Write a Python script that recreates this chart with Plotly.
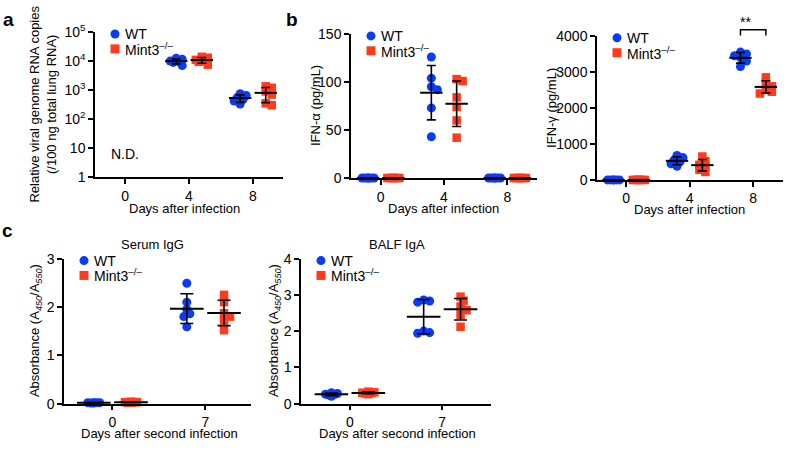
import numpy as np
import plotly.graph_objects as go

W, H = 787, 450

# ---- data ----
group_names = ["WT", "Mint3<sup>\u2013/\u2013</sup>"]

rna_days = ["0", "4", "8"]
rna_wt = [[], [12500, 11500, 10000, 9500, 9000, 7000], [750, 650, 550, 480, 420, 330]]
rna_ko = [[], [14000, 13000, 11000, 10000, 9500, 7500], [1350, 1200, 900, 700, 350, 300]]

ifna_days = ["0", "4", "8"]
ifna_wt = [[0, 0, 0, 0, 0, 0], [126, 104, 95, 92, 73, 43], [0, 0, 0, 0, 0, 0]]
ifna_ko = [[0, 0, 0, 0, 0, 0], [103, 101, 84, 74, 60, 42], [0, 0, 0, 0, 0, 0]]

ifng_days = ["0", "4", "8"]
ifng_wt = [[0, 0, 0, 0, 0, 0], [680, 620, 550, 500, 450, 380], [3550, 3500, 3450, 3400, 3300, 3150]]
ifng_ko = [[0, 0, 0, 0, 0, 0], [650, 520, 420, 370, 280, 220], [2850, 2700, 2600, 2500, 2450, 2400]]

igg_days = ["0", "7"]
igg_wt = [[0.02, 0.02, 0.01, 0.02, 0.01, 0.02], [2.49, 2.10, 1.95, 1.86, 1.80, 1.59]]
igg_ko = [[0.03, 0.02, 0.04, 0.03, 0.02, 0.03], [2.25, 2.10, 1.87, 1.80, 1.72, 1.52]]

iga_days = ["0", "7"]
iga_wt = [[0.30, 0.28, 0.26, 0.25, 0.24, 0.20], [2.86, 2.83, 2.80, 2.00, 1.96, 1.94]]
iga_ko = [[0.33, 0.31, 0.30, 0.29, 0.28, 0.26], [2.95, 2.84, 2.68, 2.58, 2.45, 2.12]]

BLUE = "#0a3cf5"
RED = "#ff3b1c"
FONT = "Liberation Sans, Arial, Helvetica, sans-serif"
TICK = 14
LAB = 13

# box = (left, right, top, bottom) in pixels
panels = [
    dict(days=rna_days, wt=rna_wt, ko=rna_ko, box=(95, 283, 23, 174), xr=[-0.47, 2.47],
         yr=[0, 5], log=True, ytitle="Relative viral genome RNA copies<br>(/100 ng total lung RNA)",
         ytx=43, xtitle="Days after infection", xtx=184, xty=207, meanw=16, capw=4.5),
    dict(days=ifna_days, wt=ifna_wt, ko=ifna_ko, box=(351, 537, 25, 175), xr=[-0.47, 2.47],
         yr=[0, 150], dtick=50, ytitle="IFN-\u03b1 (pg/mL)", ytx=315,
         xtitle="Days after infection", xtx=443, xty=207, meanw=16, capw=4.5),
    dict(days=ifng_days, wt=ifng_wt, ko=ifng_ko, box=(597, 783, 27, 177), xr=[-0.46, 2.47],
         yr=[0, 4000], dtick=1000, ytitle="IFN-\u03b3 (pg/mL)", ytx=552,
         xtitle="Days after infection", xtx=689, xty=208, meanw=16, capw=4.5),
    dict(days=igg_days, wt=igg_wt, ko=igg_ko, box=(64, 251, 259, 410), xr=[-0.52, 1.49],
         yr=[0, 3], dtick=1, ytitle="Absorbance (A<sub><i>450</i></sub>/A<sub><i>550</i></sub>)", ytx=35,
         xtitle="Days after second infection", xtx=159, xty=441, meanw=24, capw=6.5,
         title="Serum IgG", titlex=152),
    dict(days=iga_days, wt=iga_wt, ko=iga_ko, box=(301, 491, 259, 410), xr=[-0.53, 1.53],
         yr=[0, 4], dtick=1, ytitle="Absorbance (A<sub><i>450</i></sub>/A<sub><i>550</i></sub>)", ytx=274,
         xtitle="Days after second infection", xtx=397, xty=441, meanw=24, capw=6.5,
         title="BALF IgA", titlex=397),
]


def swarm(vals, ypx, xscale, step=3.0, kmax=2, mind=5.0):
    """simple beeswarm: returns x offsets (data units) per value"""
    order = sorted(range(len(vals)), key=lambda i: -vals[i])
    placed = []
    offs = [0.0] * len(vals)
    cands = [0]
    for k in range(1, kmax + 1):
        cands += [k, -k]
    for i in order:
        y = ypx(vals[i])
        best, bestd = 0, -1
        for k in cands:
            dx = k * step
            if any(abs(dx - px) < 0.1 and abs(y - py) < 0.1 for px, py in placed):
                continue
            d = min([np.hypot(dx - px, y - py) for px, py in placed] or [1e9])
            if d >= mind:
                best = dx
                break
            if d > bestd:
                best, bestd = dx, d
        placed.append((best, y))
        offs[i] = best / xscale
    return offs


fig = go.Figure()
annotations = []
shapes = []

for k, p in enumerate(panels):
    sfx = "" if k == 0 else str(k + 1)
    l, r, t, b = p["box"]
    xscale = (r - l) / (p["xr"][1] - p["xr"][0])
    hpx = b - t
    if p.get("log"):
        ypx = lambda v, p=p, hpx=hpx: (np.log10(v) - p["yr"][0]) / (p["yr"][1] - p["yr"][0]) * hpx
    else:
        ypx = lambda v, p=p, hpx=hpx: (v - p["yr"][0]) / (p["yr"][1] - p["yr"][0]) * hpx

    for g, (series, color, symbol, shift) in enumerate(
            [(p["wt"], BLUE, "circle", -0.2), (p["ko"], RED, "square", 0.2)]):
        xs, ys, mx, my, sd = [], [], [], [], []
        for d, vals in enumerate(series):
            if not vals:
                continue
            offs = swarm(vals, ypx, xscale)
            xs += [d + shift + o for o in offs]
            ys += list(vals)
            mx.append(d + shift)
            my.append(float(np.mean(vals)))
            sd.append(float(np.std(vals, ddof=1)))
        fig.add_trace(go.Scatter(
            x=xs, y=ys, mode="markers", xaxis="x" + sfx, yaxis="y" + sfx, showlegend=False,
            cliponaxis=False, name=group_names[g],
            marker=dict(symbol=symbol, size=9 if symbol == "circle" else 8.5, color=color,
                        line=dict(width=0))))
        fig.add_trace(go.Scatter(
            x=mx, y=my, mode="markers", xaxis="x" + sfx, yaxis="y" + sfx, showlegend=False,
            cliponaxis=False, hoverinfo="skip",
            marker=dict(symbol="line-ew", size=p["meanw"], color="black",
                        line=dict(width=2, color="black")),
            error_y=dict(type="data", array=sd, visible=True, color="black",
                         thickness=1.6, width=p["capw"])))

    ax = dict(showline=True, linecolor="black", linewidth=1.5, ticks="outside", ticklen=5,
              tickwidth=1.5, tickcolor="black", showgrid=False, zeroline=False,
              tickfont=dict(size=TICK, color="black", family=FONT))
    fig.update_layout(**{
        "xaxis" + sfx: dict(ax, domain=[l / W, r / W], anchor="y" + sfx, range=p["xr"],
                            tickvals=list(range(len(p["days"]))), ticktext=p["days"]),
        "yaxis" + sfx: dict(ax, domain=[1 - b / H, 1 - t / H], anchor="x" + sfx,
                            **(dict(type="log", range=p["yr"],
                                    tickvals=[1, 10, 100, 1e3, 1e4, 1e5],
                                    ticktext=["1", "10", "10<sup>2</sup>", "10<sup>3</sup>",
                                              "10<sup>4</sup>", "10<sup>5</sup>"])
                               if p.get("log") else dict(range=p["yr"], dtick=p["dtick"]))),
    })

    # axis titles
    annotations.append(dict(x=p["ytx"] / W, y=1 - (t + b) / 2 / H, xref="paper", yref="paper",
                            text=p["ytitle"], textangle=-90, showarrow=False,
                            xanchor="center", yanchor="middle", font=dict(size=LAB)))
    annotations.append(dict(x=p["xtx"] / W, y=1 - p["xty"] / H, xref="paper", yref="paper",
                            text=p["xtitle"], showarrow=False, xanchor="center",
                            yanchor="middle", font=dict(size=LAB)))
    if p.get("title"):
        annotations.append(dict(x=p["titlex"] / W, y=1 - 244 / H, xref="paper", yref="paper",
                                text=p["title"], showarrow=False, xanchor="center",
                                yanchor="middle", font=dict(size=LAB)))

    # legend drawn in the top-left corner of each panel
    lx, ly = l + 20, t + 2
    for g, (color, stype) in enumerate([(BLUE, "circle"), (RED, "rect")]):
        yy = 1 - (ly + g * 15.5) / H
        shapes.append(dict(type=stype, xref="paper", yref="paper", xsizemode="pixel",
                           ysizemode="pixel", xanchor=lx / W, yanchor=yy, x0=-4.5, x1=4.5,
                           y0=-4.5, y1=4.5, fillcolor=color, line=dict(width=0)))
        annotations.append(dict(x=(lx + 8) / W, y=yy, xref="paper", yref="paper",
                                text=group_names[g], showarrow=False, xanchor="left",
                                yanchor="middle", font=dict(size=14)))

# N.D. label in panel a at day 0
annotations.append(dict(x=0, y=0.093, xref="x", yref="y domain", text="N.D.",
                        showarrow=False, font=dict(size=14)))

# significance bracket in IFN-gamma panel, day 8
p = panels[2]
l, r, t, b = p["box"]
def xpaper(xv):
    return (l + (xv - p["xr"][0]) / (p["xr"][1] - p["xr"][0]) * (r - l)) / W
x1, x2 = xpaper(2 - 0.2), xpaper(2 + 0.2)
ytop, ybot = 1 - 20.5 / H, 1 - 26.5 / H
shapes.append(dict(type="path", xref="paper", yref="paper",
                   path=f"M {x1},{ybot} L {x1},{ytop} L {x2},{ytop} L {x2},{ybot}",
                   line=dict(color="black", width=1.5)))
annotations.append(dict(x=(x1 + x2) / 2, y=1 - 13 / H, xref="paper", yref="paper",
                        text="**", showarrow=False, font=dict(size=14), yanchor="middle"))

# panel letters
for letter, lx, ly in [("a", 8, 10), ("b", 292, 10), ("c", 7, 230)]:
    annotations.append(dict(x=lx / W, y=1 - ly / H, xref="paper", yref="paper",
                            text="<b>" + letter + "</b>", showarrow=False,
                            xanchor="center", yanchor="middle", font=dict(size=19)))

fig.update_layout(
    width=W, height=H, margin=dict(l=0, r=0, t=0, b=0),
    paper_bgcolor="white", plot_bgcolor="white",
    font=dict(family=FONT, size=13, color="black"),
    annotations=annotations, shapes=shapes, showlegend=False,
)

# the page body has a default 8px margin; remove it so the figure fills the window
fig.write_html("out.html", config={"displayModeBar": False},
               post_script="document.body.style.margin='0';")
